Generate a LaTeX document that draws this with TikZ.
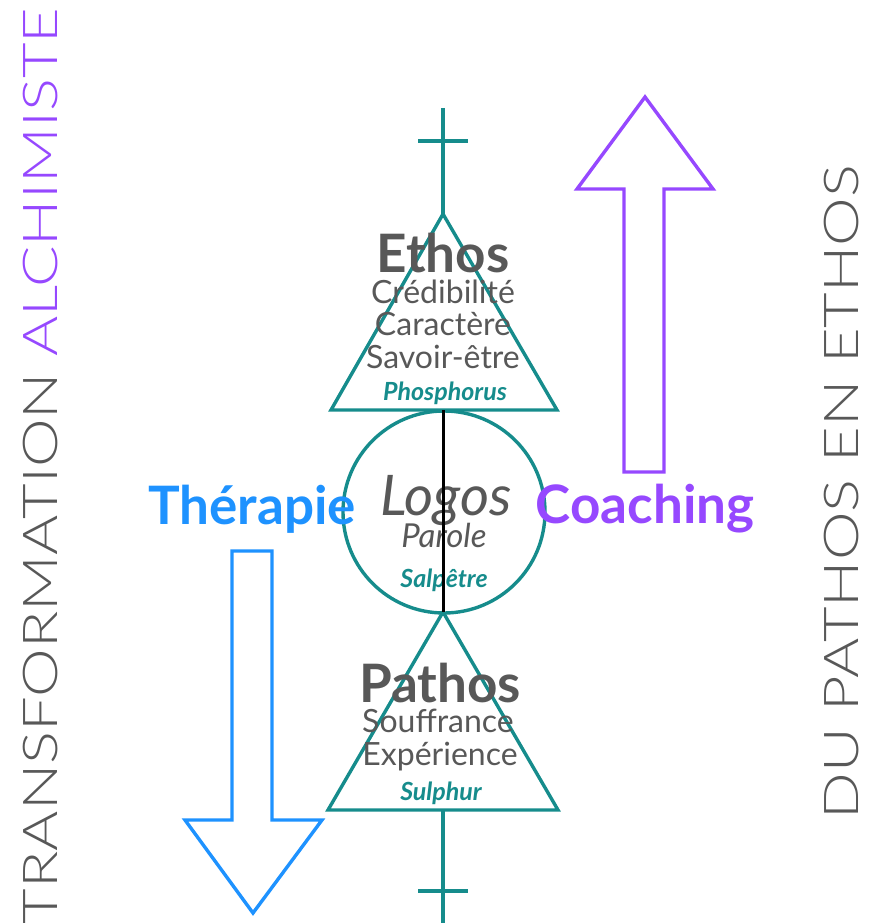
\documentclass[tikz,border=0pt]{standalone}
\usepackage{fontspec}
\setmainfont{Lato}
\newfontfamily\thinfont{Lato Light}
\definecolor{alchTeal}{RGB}{22,140,140}
\definecolor{alchPurple}{RGB}{150,72,255}
\definecolor{alchBlue}{RGB}{30,146,255}
\definecolor{alchGray}{RGB}{88,88,88}
\newcommand{\widecaps}[1]{\scalebox{1.28}[1]{#1}}
\begin{document}
\begin{tikzpicture}[x=1pt, y=-1pt, line cap=butt, line join=miter,
    glyph/.style={draw=alchTeal, line width=3.4pt},
    head/.style={inner sep=0pt, outer sep=0pt, anchor=base, text=alchGray, font=\fontsize{53}{53}\selectfont\bfseries},
    trait/.style={inner sep=0pt, outer sep=0pt, anchor=base, text=alchGray, font=\fontsize{32}{32}\selectfont},
    metal/.style={inner sep=0pt, outer sep=0pt, anchor=base, text=alchTeal, font=\fontsize{25}{25}\selectfont\bfseries\itshape},
    way/.style={inner sep=0pt, outer sep=0pt, anchor=base, font=\fontsize{53}{53}\selectfont\bfseries},
    side/.style={inner sep=0pt, outer sep=0pt, anchor=base, rotate=90, text=alchGray, font=\fontsize{48}{48}\thinfont},
    hollow/.style={line width=3.4pt, fill=white}]
  \useasboundingbox (0,0) rectangle (869,923);
  % sulphur / phosphorus / salpetre glyph
  \coordinate (tTop) at (443,108);
  \coordinate (tApex) at (443,214);
  \coordinate (tL) at (331,410);
  \coordinate (tR) at (557,410);
  \coordinate (tMid) at (443,410);
  \coordinate (bApex) at (443,612);
  \coordinate (bL) at (328,810);
  \coordinate (bR) at (558,810);
  \coordinate (bMid) at (443,810);
  \coordinate (bBot) at (443,923);
  \draw[glyph] (tTop) -- (tApex);
  \draw[glyph] (418,141) -- (468,141);
  \draw[glyph] (tApex) -- (tR) -- (tL) -- cycle;
  \node[glyph, circle, minimum size=202pt, inner sep=0pt] (cLogos) at (444,512) {};
  \draw[glyph] (bApex) -- (bR) -- (bL) -- cycle;
  \draw[glyph] (bMid) -- (bBot);
  \draw[glyph] (418,891) -- (468,891);
  % arrows
  \draw[hollow, draw=alchPurple] (645,97) -- (713,189) -- (664,189) -- (664,472)
    -- (624,472) -- (624,189) -- (577,189) -- cycle;
  \draw[hollow, draw=alchBlue] (253,913) -- (185,820) -- (232,820) -- (232,551)
    -- (272,551) -- (272,820) -- (322,820) -- cycle;
  % texts
  \node[head] (eEthos) at (443,272) {Ethos};
  \node[trait] (eCred) at (443,303) {Crédibilité};
  \node[trait] (eCar) at (443,335) {Caractère};
  \node[trait] (eSav) at (443,368) {Savoir-être};
  \node[metal] (ePhos) at (445,400) {Phosphorus};
  \node[trait, font=\fontsize{56}{56}\selectfont\itshape] (lLogos) at (446,515) {Logos};
  \node[trait, font=\fontsize{33}{33}\selectfont\itshape] (lParole) at (444,547) {Parole};
  \node[metal] (lSalp) at (444,587) {Salpêtre};
  \node[head] (pPathos) at (440,702) {Pathos};
  \node[trait] (pSouf) at (438,732) {Souffrance};
  \node[trait] (pExp) at (440,765) {Expérience};
  \node[metal] (pSulph) at (441,800) {Sulphur};
  \node[way, text=alchBlue] (wTher) at (252,524) {Thérapie};
  \node[way, text=alchPurple] (wCoach) at (645,523) {Coaching};
  \node[side] (sLeft) at (57,466) {\widecaps{TRANSFORMATION {\color{alchPurple}ALCHIMISTE}}};
  \node[side] (sRight) at (858,492) {\widecaps{DU PATHOS EN ETHOS}};
  % logos axis
  \draw[line width=3pt, black] (tMid) -- (bApex);
\end{tikzpicture}
\end{document}
